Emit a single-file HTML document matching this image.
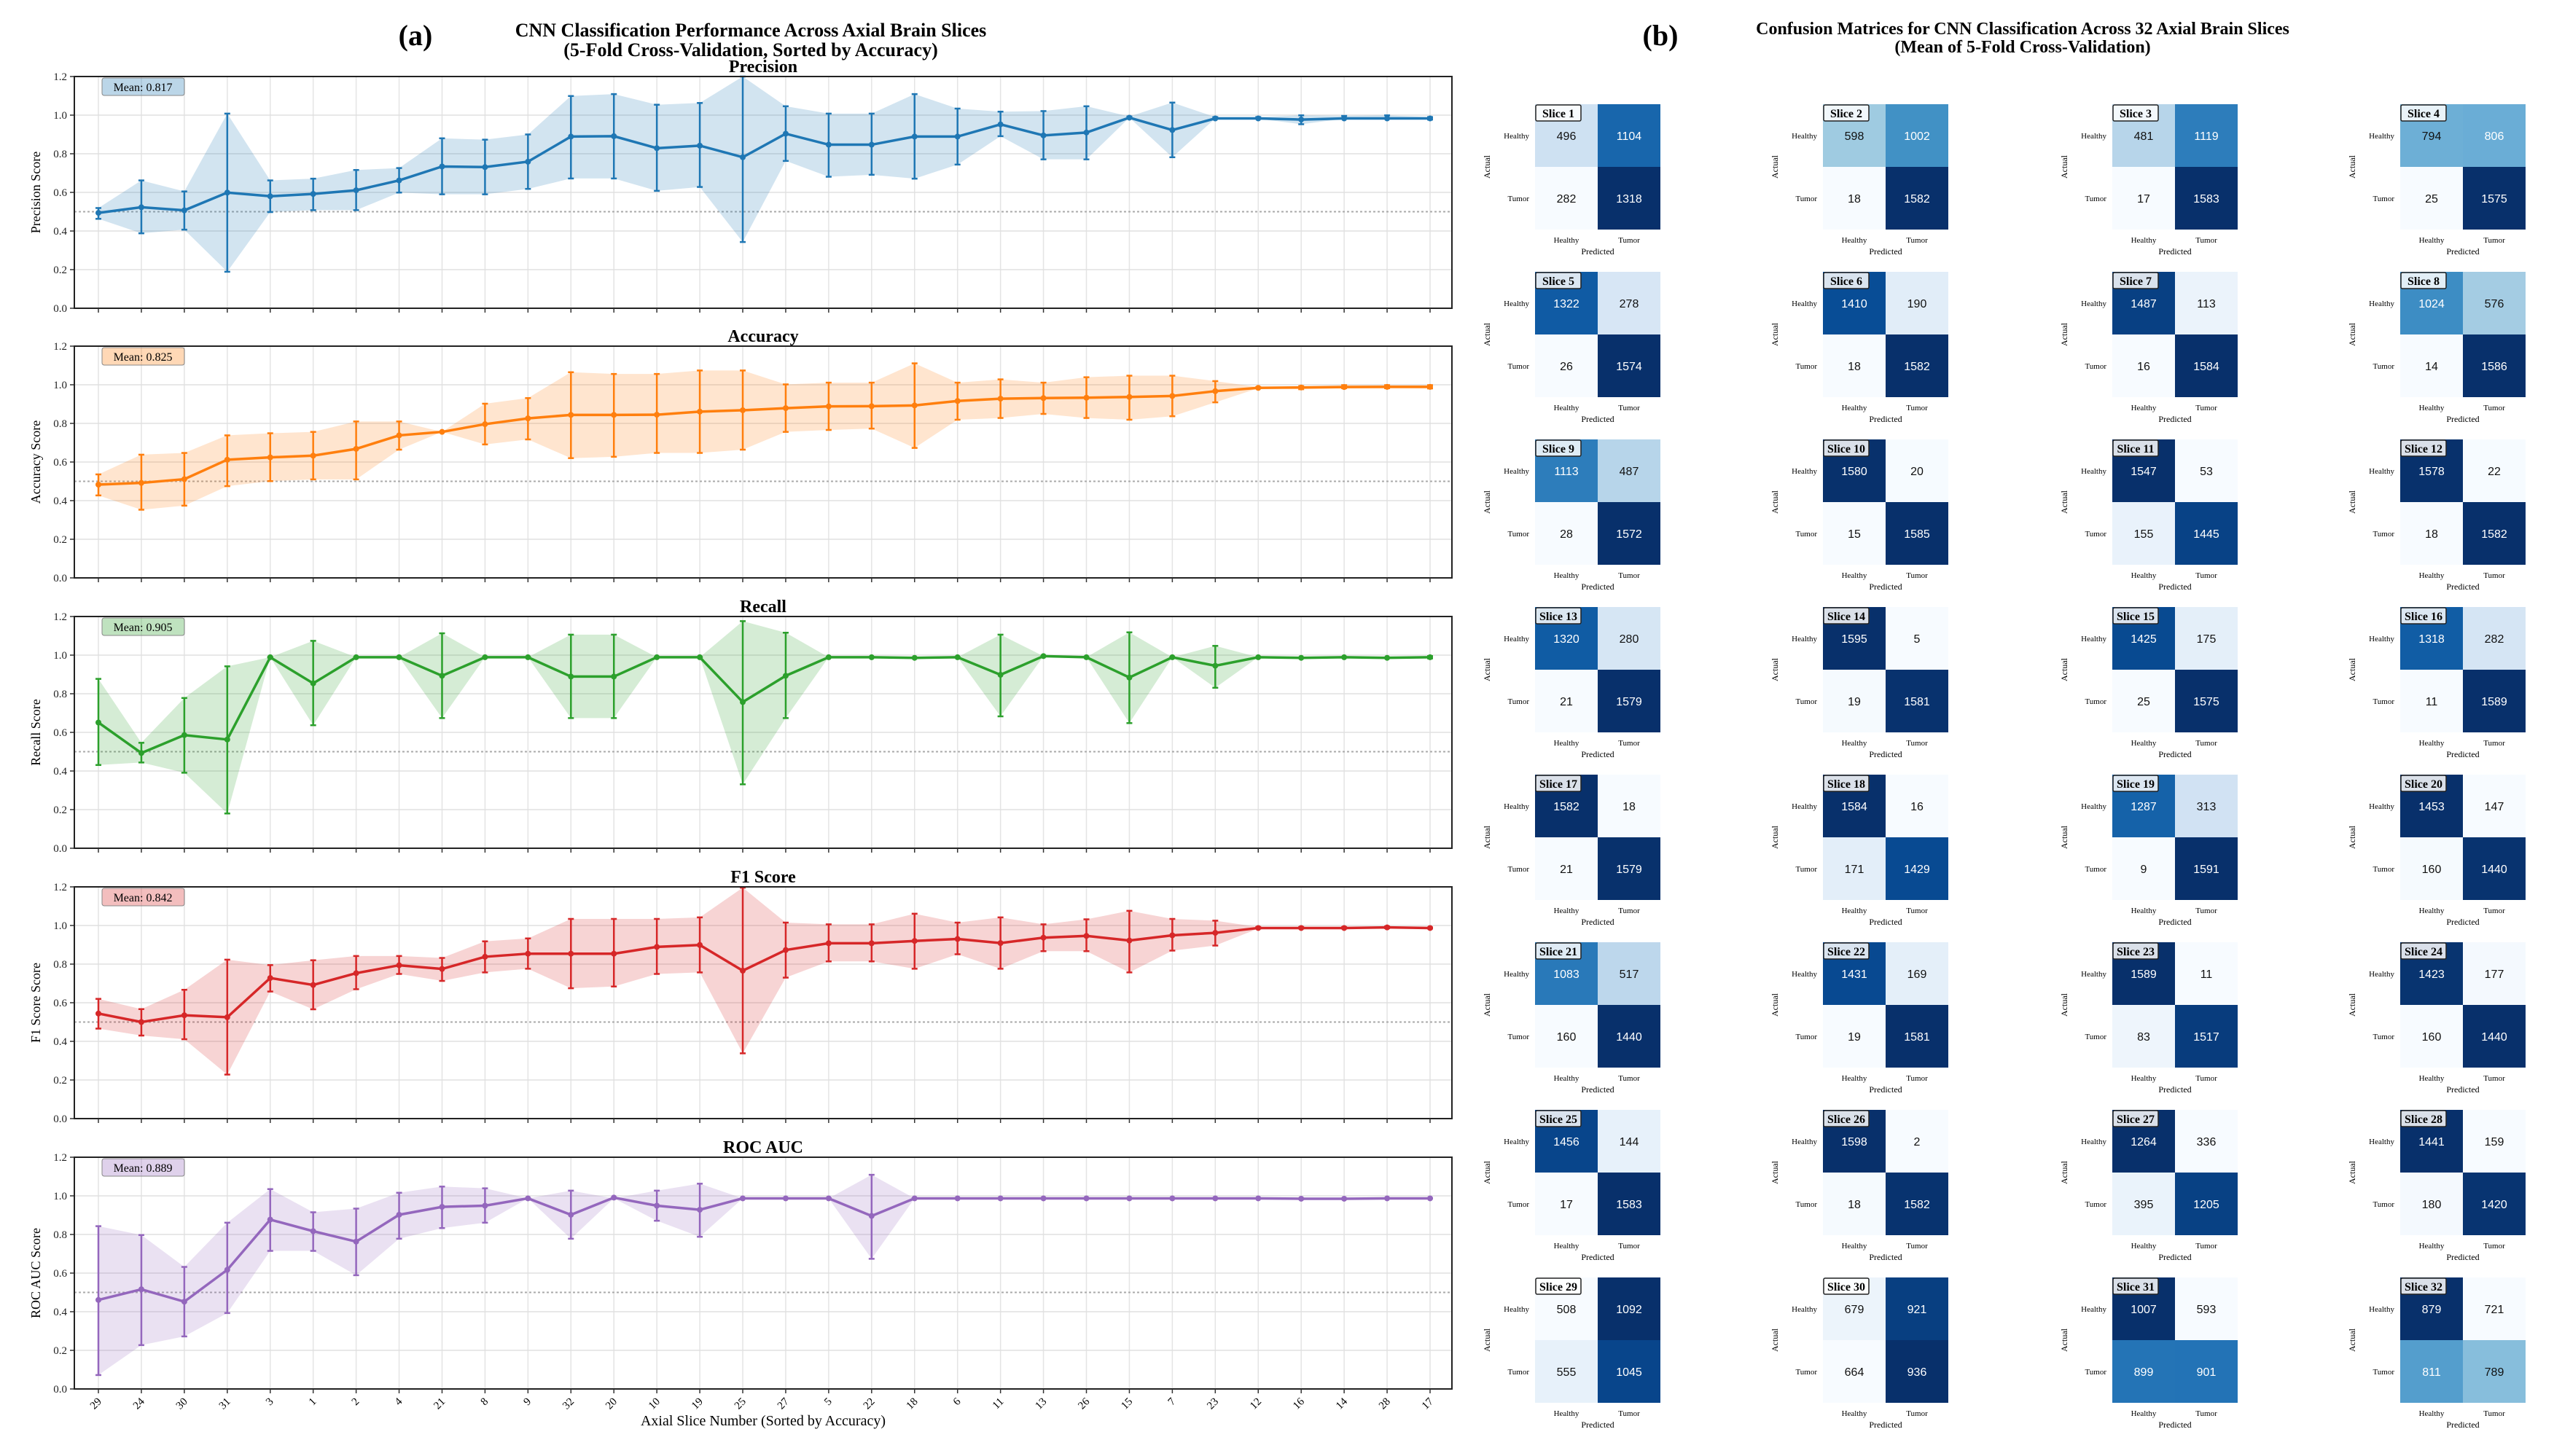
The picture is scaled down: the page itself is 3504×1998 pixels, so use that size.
<!DOCTYPE html>
<html><head><meta charset="utf-8"><style>
html,body{margin:0;padding:0;background:#fff;}
svg{display:block;font-family:"Liberation Serif","DejaVu Serif",serif;}
</style></head><body>
<svg id="fig" width="3504" height="1998" viewBox="0 0 3504 1998" xmlns="http://www.w3.org/2000/svg">
<rect width="3504" height="1998" fill="#fff"/>
<text x="570" y="62" font-size="40" font-weight="bold" text-anchor="middle">(a)</text>
<text x="1030" y="50" font-size="26" font-weight="bold" text-anchor="middle">CNN Classification Performance Across Axial Brain Slices</text>
<text x="1030" y="77" font-size="26" font-weight="bold" text-anchor="middle">(5-Fold Cross-Validation, Sorted by Accuracy)</text>
<text x="2278" y="62" font-size="40" font-weight="bold" text-anchor="middle">(b)</text>
<text x="2775" y="47" font-size="24" font-weight="bold" text-anchor="middle">Confusion Matrices for CNN Classification Across 32 Axial Brain Slices</text>
<text x="2775" y="72" font-size="24" font-weight="bold" text-anchor="middle">(Mean of 5-Fold Cross-Validation)</text>
<g id="charts"></g>
<g id="cms"></g>
</svg>
<script>
const sliceLabels=["29","24","30","31","3","1","2","4","21","8","9","32","20","10","19","25","27","5","22","18","6","11","13","26","15","7","23","12","16","14","28","17"];
const yTicks=["0.0","0.2","0.4","0.6","0.8","1.0","1.2"];
const precMean=[0.494,0.523,0.507,0.599,0.580,0.592,0.611,0.662,0.734,0.731,0.759,0.889,0.891,0.829,0.842,0.782,0.904,0.847,0.847,0.889,0.889,0.952,0.895,0.910,0.987,0.923,0.983,0.983,0.977,0.983,0.983,0.983];
const precUp=[0.519,0.662,0.605,1.008,0.662,0.671,0.716,0.726,0.880,0.873,0.900,1.099,1.109,1.054,1.063,1.200,1.046,1.008,1.008,1.109,1.034,1.018,1.021,1.046,0.993,1.065,0.990,0.990,0.999,0.996,0.999,0.990];
const precLo=[0.463,0.388,0.407,0.189,0.498,0.508,0.508,0.599,0.590,0.590,0.618,0.672,0.672,0.608,0.628,0.343,0.763,0.681,0.691,0.671,0.744,0.891,0.771,0.771,0.987,0.782,0.983,0.981,0.953,0.981,0.981,0.977];
const accMean=[0.483,0.492,0.511,0.612,0.624,0.633,0.668,0.738,0.756,0.796,0.826,0.844,0.844,0.845,0.861,0.868,0.879,0.888,0.889,0.893,0.916,0.928,0.931,0.933,0.937,0.942,0.967,0.984,0.986,0.988,0.989,0.989];
const accUp=[0.536,0.638,0.647,0.738,0.749,0.756,0.810,0.810,0.756,0.902,0.931,1.065,1.056,1.056,1.074,1.074,1.002,1.011,1.011,1.111,1.011,1.028,1.011,1.039,1.047,1.047,1.019,0.988,0.993,0.998,0.998,0.998];
const accLo=[0.427,0.353,0.374,0.475,0.501,0.510,0.510,0.664,0.756,0.691,0.717,0.620,0.627,0.647,0.647,0.664,0.756,0.766,0.773,0.673,0.819,0.828,0.849,0.828,0.819,0.837,0.909,0.982,0.977,0.982,0.982,0.981];
const recMean=[0.651,0.493,0.586,0.563,0.989,0.854,0.989,0.989,0.893,0.989,0.989,0.889,0.889,0.989,0.989,0.757,0.893,0.989,0.989,0.986,0.989,0.898,0.995,0.989,0.884,0.989,0.945,0.989,0.986,0.989,0.986,0.989];
const recUp=[0.877,0.546,0.778,0.942,0.989,1.074,0.989,0.989,1.113,0.989,0.989,1.106,1.106,0.989,0.989,1.176,1.116,0.989,0.989,0.986,0.989,1.106,0.995,0.989,1.118,0.989,1.048,0.989,0.986,0.989,0.986,0.995];
const recLo=[0.431,0.444,0.391,0.180,0.989,0.637,0.989,0.989,0.674,0.989,0.989,0.674,0.674,0.989,0.989,0.331,0.674,0.989,0.989,0.986,0.989,0.683,0.995,0.989,0.648,0.989,0.831,0.989,0.986,0.989,0.986,0.983];
const f1Mean=[0.544,0.500,0.535,0.525,0.728,0.692,0.753,0.794,0.775,0.838,0.854,0.854,0.854,0.889,0.899,0.766,0.873,0.908,0.908,0.920,0.930,0.909,0.937,0.946,0.922,0.949,0.962,0.987,0.987,0.987,0.990,0.987];
const f1Up=[0.620,0.567,0.667,0.823,0.795,0.820,0.842,0.842,0.832,0.918,0.933,1.034,1.034,1.034,1.042,1.196,1.015,1.006,1.006,1.061,1.015,1.042,1.006,1.032,1.076,1.034,1.025,0.992,0.992,0.992,0.995,0.990];
const f1Lo=[0.466,0.430,0.411,0.228,0.658,0.566,0.670,0.749,0.713,0.757,0.776,0.675,0.684,0.749,0.757,0.338,0.730,0.814,0.814,0.776,0.851,0.776,0.867,0.867,0.757,0.870,0.896,0.984,0.984,0.984,0.986,0.984];
const aucMean=[0.461,0.516,0.452,0.617,0.877,0.817,0.763,0.902,0.943,0.949,0.987,0.902,0.991,0.949,0.928,0.987,0.987,0.987,0.896,0.987,0.987,0.987,0.987,0.987,0.987,0.987,0.987,0.987,0.985,0.985,0.987,0.987];
const aucUp=[0.843,0.797,0.632,0.861,1.035,0.915,0.934,1.016,1.048,1.039,0.987,1.027,0.987,1.027,1.063,0.987,0.987,0.987,1.109,0.987,0.987,0.987,0.987,0.987,0.987,0.987,0.987,0.987,0.987,0.987,0.987,0.987];
const aucLo=[0.072,0.227,0.272,0.393,0.715,0.715,0.589,0.778,0.833,0.861,0.987,0.778,0.987,0.871,0.788,0.987,0.987,0.987,0.674,0.987,0.987,0.987,0.987,0.987,0.987,0.987,0.987,0.987,0.983,0.983,0.987,0.987];
const metricNames=["Precision","Accuracy","Recall","F1 Score","ROC AUC"];
const metricMeans=["0.817","0.825","0.905","0.842","0.889"];

const cmSlices=["1","2","3","4","5","6","7","8","9","10","11","12","13","14","15","16","17","18","19","20","21","22","23","24","25","26","27","28","29","30","31","32"];
const cmTN=[496,598,481,794,1322,1410,1487,1024,1113,1580,1547,1578,1320,1595,1425,1318,1582,1584,1287,1453,1083,1431,1589,1423,1456,1598,1264,1441,508,679,1007,879];
const cmFP=[1104,1002,1119,806,278,190,113,576,487,20,53,22,280,5,175,282,18,16,313,147,517,169,11,177,144,2,336,159,1092,921,593,721];
const cmFN=[282,18,17,25,26,18,16,14,28,15,155,18,21,19,25,11,21,171,9,160,160,19,83,160,17,18,395,180,555,664,899,811];
const cmTP=[1318,1582,1583,1575,1574,1582,1584,1586,1572,1585,1445,1582,1579,1581,1575,1589,1579,1429,1591,1440,1440,1581,1517,1440,1583,1582,1205,1420,1045,936,901,789];

const NS="http://www.w3.org/2000/svg";
function mk(tag,attrs,parent){const e=document.createElementNS(NS,tag);for(const k in attrs)e.setAttribute(k,attrs[k]);parent.appendChild(e);return e;}

const colors=["#1f77b4","#ff7f0e","#2ca02c","#d62728","#9467bd"];
const series=[[precMean,precUp,precLo],[accMean,accUp,accLo],[recMean,recUp,recLo],[f1Mean,f1Up,f1Lo],[aucMean,aucUp,aucLo]];
const ylabels=["Precision Score","Accuracy Score","Recall Score","F1 Score Score","ROC AUC Score"];
const AX0=102,AX1=1992,PH=318;
const tops=[105,475,846,1217,1588];
const n=sliceLabels.length;
function xs(i){return 135+i*(1962-135)/(n-1);}
const charts=document.getElementById('charts');
metricNames.forEach((name,m)=>{
  const top=tops[m],bot=top+PH;
  const ys=v=>bot-(v/1.2)*PH;
  const g=mk('g',{},charts);
  
  
  const t=mk('text',{x:1047,y:top-6,'font-size':24,'font-weight':'bold','text-anchor':'middle'},g);
  t.textContent=name;
  
  
  for(let i=0;i<n;i++){const l=mk('line',{x1:xs(i),x2:xs(i),y1:top,y2:bot,stroke:'#e4e4e4','stroke-width':1.5},g);}
  yTicks.forEach((lab,k)=>{
    const v=parseFloat(lab),y=ys(v);
    mk('line',{x1:AX0,x2:AX1,y1:y,y2:y,stroke:'#e0e0e0','stroke-width':1.5},g);
    mk('line',{x1:AX0-6,x2:AX0,y1:y,y2:y,stroke:'#333','stroke-width':1.5},g);
    const tt=mk('text',{x:AX0-10,y:y+5,'font-size':15,'text-anchor':'end',fill:'#222'},g);
    tt.textContent=lab;
    
    
  });
  mk('line',{x1:AX0,x2:AX1,y1:ys(0.5),y2:ys(0.5),stroke:'#aaa','stroke-width':2,'stroke-dasharray':'3,3'},g);
  const [mean,up,lo]=series[m],c=colors[m];
  let pts=[];for(let i=0;i<n;i++)pts.push(xs(i)+','+ys(up[i]));for(let i=n-1;i>=0;i--)pts.push(xs(i)+','+ys(lo[i]));
  const band=mk('polygon',{points:pts.join(' '),fill:c,'fill-opacity':0.2,stroke:'none'},g);
  
  
  for(let i=0;i<n;i++){
    const eb=mk('line',{x1:xs(i),x2:xs(i),y1:ys(up[i]),y2:ys(lo[i]),stroke:c,'stroke-width':2.5},g);
    
    
    mk('line',{x1:xs(i)-4,x2:xs(i)+4,y1:ys(up[i]),y2:ys(up[i]),stroke:c,'stroke-width':2.5},g);
    mk('line',{x1:xs(i)-4,x2:xs(i)+4,y1:ys(lo[i]),y2:ys(lo[i]),stroke:c,'stroke-width':2.5},g);
  }
  const line=mk('polyline',{points:mean.map((v,i)=>xs(i)+','+ys(v)).join(' '),fill:'none',stroke:c,'stroke-width':3.5},g);
  
  
  mean.forEach((v,i)=>{const p=mk('circle',{cx:xs(i),cy:ys(v),r:4,fill:c},g);
    
    });
  mk('rect',{x:AX0,y:top,width:AX1-AX0,height:PH,fill:'none',stroke:'#222','stroke-width':2},g);
  for(let i=0;i<n;i++){mk('line',{x1:xs(i),x2:xs(i),y1:bot,y2:bot+6,stroke:'#333','stroke-width':1.5},g);}
  const mb=mk('rect',{x:140,y:top+2,width:113,height:24,fill:c,'fill-opacity':0.3,stroke:'#888','stroke-width':1,rx:3},g);
  
  
  const mt=mk('text',{x:196,y:top+20,'font-size':16,'text-anchor':'middle'},g);
  mt.textContent='Mean: '+metricMeans[m];
  
  
  const yl=mk('text',{x:0,y:0,'font-size':18,'text-anchor':'middle',transform:`translate(55,${top+PH/2}) rotate(-90)`},g);
  yl.textContent=ylabels[m];
  
  
  if(m===4){
    sliceLabels.forEach((s,i)=>{const xt=mk('text',{x:0,y:0,'font-size':15,'text-anchor':'end',transform:`translate(${xs(i)+5},${bot+18}) rotate(-45)`},g);
      xt.textContent=s;
      
      });
    const xl=mk('text',{x:1047,y:bot+50,'font-size':20,'text-anchor':'middle'},g);
    xl.textContent='Axial Slice Number (Sorted by Accuracy)';
    
    
  }
});

const blues=[[247,251,255],[222,235,247],[198,219,239],[158,202,225],[107,174,214],[66,146,198],[33,113,181],[8,81,156],[8,48,107]];
function bcol(t){t=Math.max(0,Math.min(1,t))*8;const i=Math.min(7,Math.floor(t)),f=t-i;const a=blues[i],b=blues[i+1];return `rgb(${a.map((v,k)=>Math.round(v+(b[k]-v)*f)).join(',')})`;}
const cms=document.getElementById('cms');
const colX=[2106,2501,2898,3293],CW=86,CH=86;
cmSlices.forEach((s,k)=>{
  const x0=colX[k%4],y0=143+Math.floor(k/4)*230;
  const vals=[cmTN[k],cmFP[k],cmFN[k],cmTP[k]];
  const mn=Math.min(...vals),mx=Math.max(...vals);
  const g=mk('g',{},cms);
  
  
  vals.forEach((v,j)=>{
    const cx=x0+(j%2)*CW,cy=y0+Math.floor(j/2)*CH,t=(v-mn)/(mx-mn||1);
    const r=mk('rect',{x:cx,y:cy,width:CW,height:CH,fill:bcol(t)},g);
    
    
    const tx=mk('text',{x:cx+CW/2,y:cy+CH/2+6,'font-size':16,'text-anchor':'middle',fill:t>0.5?'#fff':'#111','font-family':'Liberation Sans, sans-serif'},g);
    tx.textContent=v;
    
    
  });
  const lb=mk('rect',{x:x0+1,y:y0+1,width:62,height:22,fill:'#fff','fill-opacity':0.85,stroke:'#222','stroke-width':1.5,rx:2},g);
  
  
  const lt=mk('text',{x:x0+32,y:y0+18,'font-size':16,'font-weight':'bold','text-anchor':'middle'},g);
  lt.textContent='Slice '+s;
  
  
  ["Healthy","Tumor"].forEach((c,j)=>{
    const a=mk('text',{x:x0-8,y:y0+CH/2+j*CH+4,'font-size':11,'text-anchor':'end'},g);
    a.textContent=c;
    
    
    const b=mk('text',{x:x0+CW/2+j*CW,y:y0+2*CH+18,'font-size':11,'text-anchor':'middle'},g);
    b.textContent=c;
    
    
  });
  const ya=mk('text',{x:0,y:0,'font-size':12,'text-anchor':'middle',transform:`translate(${x0-62},${y0+CH}) rotate(-90)`},g);
  ya.textContent='Actual';
  
  
  const xa=mk('text',{x:x0+CW,y:y0+2*CH+34,'font-size':12,'text-anchor':'middle'},g);
  xa.textContent='Predicted';
  
  
});
</script>
</body></html>
